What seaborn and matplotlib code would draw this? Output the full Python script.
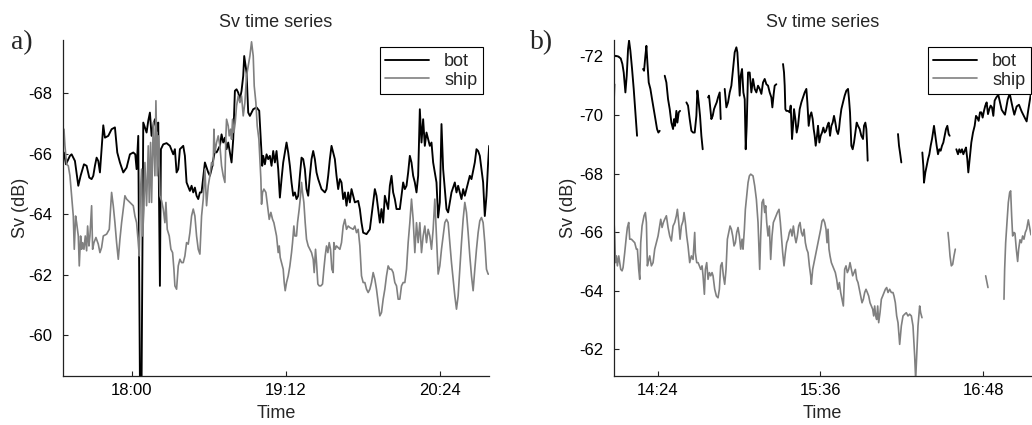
import numpy as np
import pandas as pd
import matplotlib
matplotlib.use("Agg")
import matplotlib.pyplot as plt
from matplotlib.lines import Line2D
from matplotlib.ticker import MultipleLocator, FuncFormatter
import seaborn as sns

# Clock time (minutes after midnight) at which each record starts
START_A = 17 * 60 + 28
START_B = 14 * 60 + 4

SERIES = ["bot", "ship"]
YTICKS_A = [-68, -66, -64, -62, -60]
YTICKS_B = [-72, -70, -68, -66, -64, -62]

# (minutes after start, Sv in dB) -- panel a
bot_a = [
    (0.47, -66.04), (1.40, -65.65), (3.26, -65.93), (4.04, -65.98), (5.59, -65.76),
    (7.15, -64.94), (8.23, -65.27), (9.79, -65.65), (11.03, -65.60), (12.27, -65.21),
    (13.36, -65.16), (14.14, -65.27), (14.91, -65.60), (15.69, -65.87), (16.47, -65.76),
    (17.24, -65.38), (18.80, -66.94), (19.57, -66.53), (21.13, -66.59), (22.68, -66.81),
    (24.23, -66.87), (25.32, -66.04), (26.56, -65.71), (28.12, -65.38), (29.67, -65.54),
    (31.22, -65.98), (32.78, -66.04), (33.71, -65.98), (34.33, -65.49), (35.11, -66.59),
    (35.88, -58.50), (36.66, -58.50), (37.44, -67.03), (38.21, -66.87), (38.99, -66.70),
    (39.77, -67.09), (40.54, -67.36), (41.32, -66.59), (42.10, -66.92), (42.87, -67.14),
    (43.65, -66.75), (44.43, -67.03), (45.20, -61.63), (45.67, -66.15), (46.76, -66.31),
    (48.31, -66.35), (49.86, -66.26), (51.42, -65.98), (52.19, -66.15), (52.97, -65.38),
    (53.75, -65.49), (54.52, -66.15), (56.08, -66.26), (56.85, -65.93), (57.63, -65.05),
    (59.18, -64.77), (59.96, -64.94), (60.74, -64.72), (61.51, -64.88), (62.29, -64.61),
    (63.07, -64.50), (63.84, -64.72), (64.62, -64.72), (66.17, -65.71), (67.73, -65.38),
    (68.50, -65.27), (69.28, -65.49), (70.83, -66.09), (71.61, -66.04), (73.17, -66.26),
    (73.94, -66.64), (74.72, -66.37), (75.50, -66.53), (76.27, -66.15), (77.05, -66.37),
    (77.83, -66.04), (78.60, -65.71), (79.38, -66.48), (80.16, -68.08), (80.93, -68.13),
    (81.71, -68.02), (82.49, -67.80), (83.26, -68.08), (84.04, -68.57), (84.50, -69.23),
    (85.13, -68.90), (85.59, -68.68), (86.37, -67.36), (87.15, -67.25), (88.70, -67.47),
    (90.25, -67.53), (91.50, -67.42), (92.12, -66.59), (92.89, -65.60), (93.36, -65.93),
    (94.14, -65.65), (94.91, -65.98), (95.69, -65.82), (96.47, -65.93), (97.24, -65.60),
    (98.02, -66.09), (98.80, -65.71), (99.57, -66.09), (100.35, -65.49), (101.13, -64.55),
    (101.90, -65.16), (102.68, -65.71), (103.46, -66.04), (104.23, -66.37), (105.01, -66.04),
    (105.79, -65.60), (106.56, -65.05), (107.34, -64.61), (108.12, -64.72), (108.89, -64.50),
    (109.67, -64.61), (110.45, -65.27), (111.22, -65.87), (112.00, -65.82), (112.78, -65.49),
    (113.55, -64.83), (114.33, -64.61), (115.11, -65.27), (115.88, -65.82), (116.66, -66.09),
    (117.44, -65.82), (118.21, -65.38), (118.99, -65.16), (119.77, -64.99), (120.54, -64.83),
    (122.10, -64.72), (122.87, -64.83), (123.65, -65.27), (124.43, -65.82), (125.20, -66.26),
    (125.98, -66.04), (126.76, -65.82), (127.53, -65.27), (128.31, -64.83), (129.09, -65.16),
    (129.86, -65.05), (130.64, -64.50), (131.42, -64.72), (132.19, -64.28), (132.97, -64.72),
    (133.75, -64.39), (134.52, -64.83), (136.08, -64.39), (137.63, -64.44), (138.41, -64.17),
    (139.18, -63.72), (139.96, -63.39), (141.52, -63.34), (143.07, -63.50), (143.84, -63.94),
    (144.62, -64.39), (145.40, -64.83), (146.17, -64.61), (146.95, -64.17), (147.73, -63.72),
    (148.50, -64.17), (149.28, -63.72), (150.06, -64.61), (150.83, -64.39), (151.61, -64.17),
    (152.39, -64.94), (153.17, -65.27), (153.94, -64.72), (154.72, -64.50), (155.50, -64.17),
    (157.05, -64.17), (157.83, -64.61), (158.60, -65.05), (159.38, -64.83), (160.16, -64.94),
    (160.93, -65.38), (161.71, -65.93), (162.49, -65.71), (163.26, -65.27), (164.04, -65.05),
    (164.82, -64.72), (165.59, -65.27), (166.37, -67.47), (167.15, -66.37), (167.92, -67.14),
    (168.70, -66.26), (169.48, -66.70), (170.25, -66.48), (171.03, -66.26), (171.81, -66.37),
    (172.58, -65.71), (173.36, -65.38), (174.14, -65.05), (174.91, -63.89), (175.69, -64.39),
    (176.47, -66.98), (177.24, -65.49), (178.02, -64.83), (178.80, -64.17), (179.57, -64.06),
    (180.35, -64.39), (181.13, -64.72), (182.68, -65.05), (183.46, -64.72), (184.23, -64.94),
    (185.01, -64.72), (185.79, -64.50), (186.56, -64.83), (187.34, -64.61), (188.89, -65.05),
    (189.67, -65.27), (190.45, -65.16), (191.22, -65.43), (192.00, -65.71), (192.78, -66.15),
    (193.55, -66.09), (194.33, -65.93), (195.11, -65.49), (195.88, -65.05), (196.66, -63.94),
    (197.44, -64.61), (198.21, -65.71), (198.69, -66.26),
]

ship_a = [
    (0.47, -66.81), (0.93, -66.26), (1.71, -65.65), (2.49, -65.60), (3.26, -65.27),
    (4.04, -64.61), (4.82, -63.94), (5.28, -62.84), (5.90, -63.94), (6.37, -63.72),
    (7.15, -63.28), (7.61, -62.29), (8.23, -63.28), (8.70, -62.84), (9.17, -63.06),
    (9.79, -62.84), (10.41, -63.28), (11.03, -62.79), (11.50, -63.61), (12.12, -62.95),
    (12.58, -63.28), (13.36, -64.28), (13.83, -62.84), (14.45, -63.06), (15.38, -63.23),
    (16.47, -63.01), (17.24, -62.73), (18.02, -62.90), (18.80, -63.28), (20.35, -63.34),
    (21.59, -63.50), (22.68, -64.72), (23.46, -64.28), (24.23, -63.72), (25.01, -63.06),
    (25.79, -62.51), (26.56, -63.17), (27.34, -63.72), (28.12, -64.17), (28.89, -64.61),
    (29.67, -64.50), (31.22, -64.39), (32.78, -64.28), (33.55, -63.94), (34.33, -63.72),
    (35.11, -63.06), (35.57, -62.62), (36.04, -64.61), (36.66, -65.49), (37.13, -63.28),
    (37.75, -64.17), (38.21, -65.71), (38.99, -64.28), (39.77, -66.26), (40.23, -64.39),
    (40.85, -66.37), (41.32, -64.39), (42.10, -67.03), (42.87, -65.27), (43.34, -67.75),
    (43.96, -65.27), (44.58, -66.59), (45.20, -64.61), (45.98, -64.44), (46.76, -64.17),
    (47.53, -63.72), (48.00, -64.39), (48.62, -63.50), (49.55, -63.28), (50.33, -62.84),
    (51.11, -62.73), (51.73, -62.18), (52.19, -61.63), (52.97, -61.52), (53.75, -62.29),
    (54.52, -62.51), (55.30, -62.40), (56.08, -62.40), (56.85, -62.62), (57.63, -63.06),
    (58.41, -63.01), (59.18, -63.39), (59.96, -63.94), (60.74, -64.17), (61.51, -63.94),
    (62.29, -63.28), (63.07, -62.84), (63.84, -62.68), (64.62, -63.94), (65.40, -64.50),
    (66.17, -65.49), (66.95, -64.28), (67.73, -64.94), (68.50, -65.27), (69.28, -65.71),
    (70.06, -65.60), (70.37, -66.81), (70.83, -66.04), (71.61, -66.37), (72.39, -66.59),
    (73.17, -66.26), (73.94, -65.60), (74.72, -65.27), (75.50, -65.05), (75.96, -66.59),
    (76.27, -67.14), (77.05, -66.92), (77.51, -66.59), (78.14, -66.81), (78.60, -66.48),
    (79.07, -67.14), (79.69, -66.70), (80.31, -67.03), (80.93, -67.58), (81.71, -67.91),
    (82.49, -67.69), (83.26, -67.91), (84.04, -67.25), (84.82, -67.69), (85.59, -68.57),
    (86.37, -68.90), (87.15, -69.23), (87.92, -69.70), (88.70, -69.23), (89.17, -68.24),
    (89.94, -67.69), (90.56, -66.92), (91.34, -66.48), (91.81, -65.82), (92.27, -65.16),
    (92.58, -64.33), (93.05, -64.72), (93.67, -64.83), (94.60, -64.72), (95.38, -64.28),
    (96.16, -63.83), (96.93, -64.06), (97.71, -63.83), (98.33, -63.72), (98.95, -63.50),
    (99.57, -63.28), (100.35, -62.73), (100.82, -62.95), (101.28, -62.57), (101.90, -62.40),
    (102.68, -62.18), (103.15, -61.74), (103.61, -61.47), (104.23, -61.74), (105.01, -61.96),
    (105.79, -62.29), (106.56, -62.73), (107.03, -63.06), (107.65, -63.61), (108.12, -63.28),
    (108.89, -63.28), (109.36, -63.72), (110.14, -64.17), (110.76, -64.61), (111.22, -65.05),
    (111.69, -64.72), (112.31, -64.39), (112.93, -63.72), (113.55, -63.17), (114.33, -62.95),
    (115.11, -62.84), (115.88, -62.73), (116.66, -62.51), (117.13, -62.07), (117.75, -62.84),
    (118.21, -62.40), (118.83, -61.69), (119.46, -61.63), (120.23, -61.63), (121.01, -61.69),
    (121.63, -62.18), (122.25, -62.62), (122.87, -62.95), (123.50, -62.73), (124.12, -63.06),
    (124.74, -62.84), (125.36, -62.18), (125.98, -62.07), (126.29, -63.06), (126.91, -62.84),
    (127.53, -62.95), (129.09, -62.84), (129.86, -63.06), (130.64, -63.61), (131.42, -63.83),
    (132.19, -63.50), (132.97, -63.61), (133.75, -63.56), (135.30, -63.50), (136.08, -63.61),
    (136.86, -63.39), (137.63, -63.50), (138.41, -62.95), (139.18, -61.96), (139.96, -61.74),
    (140.74, -61.74), (141.52, -61.52), (142.29, -61.41), (143.07, -61.52), (143.84, -61.74),
    (144.62, -62.07), (145.40, -61.85), (146.17, -61.52), (146.95, -61.08), (147.73, -60.64),
    (148.50, -60.75), (149.28, -61.19), (150.06, -61.52), (150.83, -61.96), (151.61, -62.29),
    (152.39, -62.18), (153.17, -62.18), (153.94, -62.07), (154.72, -61.74), (155.50, -61.63),
    (156.27, -61.19), (157.05, -61.19), (157.83, -61.63), (158.60, -61.74), (159.38, -61.74),
    (160.16, -62.18), (160.93, -63.06), (161.71, -63.72), (162.49, -64.50), (163.26, -63.83),
    (164.04, -62.73), (164.82, -63.72), (165.59, -63.06), (166.37, -63.72), (167.15, -62.73),
    (167.92, -63.28), (168.70, -63.61), (169.48, -63.06), (170.25, -63.50), (171.03, -63.28),
    (171.81, -62.84), (172.58, -63.50), (173.36, -64.50), (174.14, -63.28), (174.91, -62.02),
    (175.69, -62.29), (176.47, -62.84), (177.24, -63.28), (178.02, -63.72), (178.80, -63.83),
    (179.57, -63.72), (180.35, -63.06), (181.13, -62.40), (181.90, -61.85), (182.68, -61.30),
    (183.46, -60.86), (184.23, -61.30), (185.01, -62.18), (185.79, -63.06), (186.56, -63.83),
    (187.34, -64.39), (188.12, -64.06), (188.89, -63.39), (189.67, -62.62), (190.45, -61.96),
    (191.22, -61.47), (192.00, -62.18), (192.78, -62.84), (193.55, -63.39), (194.33, -63.78),
    (195.11, -63.89), (195.88, -63.72), (196.66, -63.06), (197.44, -62.18), (198.21, -62.02),
    (198.69, -62.02),
]

# panel b: None marks a dropout in the record
bot_b = [
    (0.59, -70.14), (0.88, -71.05), None,
    (1.33, -72.02), (2.51, -72.00), (3.69, -71.93), (4.42, -71.74), (5.01, -71.45),
    (5.75, -70.77), (6.34, -71.34), (6.93, -72.25), (7.37, -72.54), (7.96, -72.19),
    (8.70, -71.57), (9.43, -70.89), (10.17, -70.09), (10.91, -69.29), None,
    (13.56, -71.57), (14.00, -71.51), (14.59, -72.02), (15.04, -72.36), (15.48, -71.79),
    (16.07, -71.11), (16.81, -70.89), (17.54, -70.54), (18.28, -70.20), (19.02, -69.86),
    (19.75, -69.52), (20.34, -69.40), (20.93, -69.46), None,
    (23.15, -71.34), (23.88, -71.11), (24.62, -70.54), (25.36, -70.20), (26.09, -69.74),
    (26.83, -69.52), (27.27, -69.86), (27.71, -69.63), (28.30, -70.14), (28.75, -69.74),
    (29.34, -70.09), (29.93, -70.14), None,
    (32.73, -70.43), (33.46, -70.32), (34.20, -69.86), (34.94, -69.46), (35.68, -69.40),
    (36.41, -69.40), (37.15, -69.97), (37.59, -70.83), (38.18, -70.43), (38.77, -69.97),
    (39.36, -69.29), (39.95, -68.83), None,
    (42.31, -70.60), (42.75, -70.66), (43.19, -70.32), (43.78, -69.86), (44.37, -69.97),
    (44.96, -70.20), (45.55, -70.32), (46.14, -70.43), (46.73, -70.60), (47.47, -70.77),
    (47.91, -69.86), None,
    (49.68, -70.89), (50.42, -70.26), (51.15, -70.43), (51.89, -70.77), (52.63, -71.00),
    (53.37, -71.57), (54.10, -72.14), (54.84, -72.31), (55.28, -72.14), (55.87, -71.34),
    (56.31, -70.66), (56.76, -71.34), (57.35, -71.57), (57.94, -70.77), (58.53, -70.54),
    (58.97, -68.83), (59.41, -69.63), (60.00, -71.45), (60.74, -71.45), (61.47, -70.77),
    (62.21, -71.23), (62.95, -70.89), (63.69, -70.77), (64.42, -71.00), (65.16, -70.89),
    (65.90, -70.72), (66.63, -71.11), (67.37, -71.23), (68.11, -71.05), (68.85, -71.00),
    (69.58, -70.77), (70.32, -70.60), (70.76, -70.26), (71.35, -70.72), (71.79, -71.00),
    (72.53, -71.05), None,
    (75.48, -71.74), (75.92, -71.45), (76.22, -71.00), (76.51, -70.20), (76.95, -70.14),
    (77.69, -70.14), (78.43, -70.09), (78.87, -70.32), (79.46, -69.18), (79.90, -69.63),
    (80.34, -70.20), (80.93, -69.86), (81.52, -69.40), (82.11, -69.63), (82.85, -70.20),
    (83.59, -70.43), (84.32, -70.60), (85.06, -70.77), (85.80, -70.89), (86.24, -70.43),
    (86.83, -69.63), (87.42, -69.97), (88.01, -70.09), (88.60, -69.86), (89.04, -69.52),
    (89.48, -69.29), (89.93, -68.95), (90.52, -69.29), (90.96, -69.63), (91.55, -69.06),
    (92.14, -69.29), (92.73, -69.40), (93.32, -69.57), (93.91, -69.40), (94.50, -69.46),
    (95.09, -69.63), (95.68, -69.74), (96.27, -69.29), (96.86, -69.63), (97.44, -69.74),
    (98.03, -69.97), (98.62, -69.74), (99.21, -69.46), (99.80, -69.35), (100.25, -69.52),
    (100.69, -69.86), (101.28, -70.20), (102.01, -70.43), (102.75, -70.66), (103.49, -70.83),
    (104.23, -70.89), (104.67, -70.54), (105.11, -70.09), (105.70, -68.95), (106.29, -68.83),
    (106.88, -69.06), (107.47, -69.40), (108.06, -69.74), (108.65, -69.63), (109.39, -69.52),
    (110.12, -69.29), (110.86, -69.18), (111.30, -69.63), (111.89, -69.74), (112.33, -69.52),
    (112.63, -69.06), (112.92, -68.44), None,
    (126.34, -69.35), (126.78, -68.95), (127.22, -68.72), (127.81, -68.38), None,
    (137.10, -68.72), (137.54, -68.26), (137.84, -67.69), (138.43, -68.04), (139.02, -68.26),
    (139.61, -68.49), (140.20, -68.66), (140.79, -68.95), (141.38, -69.18), (141.82, -69.40),
    (142.26, -69.63), (142.85, -69.29), (143.44, -68.95), (144.03, -68.66), (144.62, -68.83),
    (145.21, -68.78), (145.80, -68.95), (146.39, -69.06), (146.98, -69.29), (147.57, -69.52),
    (148.16, -69.63), (148.75, -69.35), (149.19, -69.29), None,
    (152.14, -68.83), (152.87, -68.66), (153.46, -68.83), (154.05, -68.72), (154.64, -68.83),
    (155.23, -68.66), (155.82, -68.78), (156.41, -68.89), (157.00, -68.49), (157.44, -68.04),
    (158.03, -68.49), (158.77, -69.06), (159.51, -69.40), (160.25, -69.63), (160.84, -69.97),
    (161.42, -69.91), (162.01, -69.80), (162.60, -70.09), (163.19, -70.09), (163.78, -69.91),
    (164.37, -70.14), (164.96, -70.32), (165.55, -70.43), (166.14, -70.03), (166.73, -70.20),
    (167.32, -70.32), (167.91, -70.26), (168.50, -69.97), (169.09, -70.49), (169.83, -70.60),
    (170.71, -70.69), (171.45, -70.43), (172.19, -70.18), (172.92, -70.09), (173.66, -70.01),
    (174.25, -70.26), (174.84, -70.52), (175.43, -70.66), (175.87, -70.69), (176.61, -70.41),
    (177.20, -70.20), (177.79, -70.01), (178.82, -70.29), (179.85, -70.35), (181.03, -70.12),
    (182.50, -69.89), (183.24, -69.78), (183.98, -70.18), (185.16, -70.75),
]

ship_b = [
    (0.59, -66.56), (1.03, -65.87), (1.33, -64.96), (1.77, -65.19), (2.21, -64.85),
    (2.80, -65.19), (3.24, -64.96), (3.69, -64.73), (4.28, -64.68), (4.72, -64.79),
    (5.45, -65.30), (6.19, -65.87), (6.63, -66.16), (7.22, -66.33), (7.67, -65.76),
    (8.40, -65.76), (9.14, -65.70), (9.88, -65.64), (10.61, -65.42), (11.06, -65.42),
    (11.65, -64.73), (12.09, -64.39), (12.53, -65.64), (13.12, -66.21), (14.00, -66.56),
    (14.59, -66.67), (15.04, -66.33), (15.48, -64.85), (15.77, -64.96), (16.51, -65.19),
    (17.25, -64.85), (17.99, -64.96), (18.72, -65.42), (19.46, -65.64), (20.20, -65.87),
    (20.93, -66.21), (21.38, -66.44), (21.97, -66.16), (22.56, -66.33), (23.15, -66.44),
    (23.88, -66.56), (24.62, -66.16), (25.36, -65.87), (26.09, -65.70), (26.83, -66.21),
    (27.57, -66.33), (28.30, -66.56), (28.75, -66.78), (29.34, -66.33), (29.93, -65.76),
    (30.52, -66.21), (31.25, -66.38), (31.70, -66.67), (32.28, -66.33), (32.87, -65.87),
    (33.46, -65.53), (34.20, -64.96), (34.94, -65.19), (35.68, -65.07), (36.41, -65.99),
    (36.71, -65.30), (37.30, -64.96), (37.89, -64.96), (38.48, -64.85), (39.07, -64.73),
    (39.66, -64.85), (40.10, -64.51), (40.69, -63.88), (41.13, -64.73), (41.72, -64.96),
    (42.31, -64.39), (42.90, -64.62), (43.49, -64.51), (44.08, -64.62), (44.52, -64.51),
    (45.26, -64.05), (46.00, -63.82), (46.73, -63.76), (47.32, -64.05), (47.91, -64.85),
    (48.50, -64.96), (49.09, -64.51), (49.68, -64.22), (50.27, -64.73), (50.86, -65.76),
    (51.45, -65.99), (52.04, -66.21), (52.63, -66.10), (53.22, -65.87), (53.81, -65.53),
    (54.40, -65.64), (54.99, -65.99), (55.58, -66.16), (56.17, -65.87), (56.76, -65.42),
    (57.35, -65.76), (57.79, -65.42), (58.38, -66.10), (58.82, -66.78), (59.41, -67.24),
    (60.00, -67.69), (60.59, -67.92), (61.18, -67.98), (62.21, -67.92), (62.95, -67.58),
    (63.69, -67.12), (64.42, -66.33), (65.16, -64.73), (65.60, -65.87), (66.19, -67.01),
    (66.78, -67.12), (67.37, -66.67), (67.81, -66.90), (68.26, -66.33), (68.85, -65.87),
    (69.43, -66.21), (70.02, -65.07), (70.61, -65.87), (71.20, -66.33), (71.79, -66.44),
    (72.38, -66.56), (72.97, -66.67), (73.71, -66.78), (74.30, -66.33), (74.74, -65.87),
    (75.33, -65.30), (75.92, -64.85), (76.51, -65.30), (77.10, -65.64), (77.69, -65.76),
    (78.28, -65.99), (78.87, -66.10), (79.46, -65.87), (80.05, -66.21), (80.64, -65.87),
    (81.23, -65.64), (81.82, -65.87), (82.41, -66.21), (83.00, -66.33), (83.59, -65.99),
    (84.18, -65.87), (84.77, -66.10), (85.36, -65.64), (85.95, -65.42), (86.54, -65.30),
    (87.13, -64.85), (87.71, -64.51), (88.01, -64.22), (88.60, -64.73), (89.19, -64.96),
    (89.78, -65.19), (90.37, -65.42), (90.96, -65.64), (91.55, -65.87), (92.14, -66.10),
    (92.73, -66.38), (93.32, -66.44), (93.91, -66.33), (94.50, -66.10), (94.94, -65.64),
    (95.38, -66.10), (95.82, -65.42), (96.27, -65.19), (96.86, -64.96), (97.44, -64.85),
    (98.03, -64.73), (98.62, -64.62), (99.21, -64.39), (99.80, -64.05), (100.39, -64.28),
    (100.98, -63.94), (101.57, -63.71), (102.16, -63.48), (102.75, -64.73), (103.34, -64.85),
    (103.93, -64.62), (104.52, -64.73), (105.11, -64.96), (105.70, -64.73), (106.29, -64.51),
    (106.88, -64.62), (107.47, -64.73), (108.06, -64.39), (108.65, -64.28), (109.24, -64.05),
    (109.83, -63.82), (110.42, -63.59), (111.01, -63.71), (111.60, -63.94), (112.19, -64.05),
    (112.78, -63.94), (113.37, -63.82), (113.96, -63.59), (114.55, -63.48), (115.14, -63.37),
    (115.58, -63.14), (116.02, -63.48), (116.46, -63.14), (116.90, -63.02), (117.35, -63.48),
    (117.79, -62.91), (118.38, -63.25), (118.97, -63.71), (119.56, -63.82), (120.15, -63.94),
    (120.74, -64.05), (121.33, -64.11), (121.92, -63.94), (122.65, -64.05), (123.39, -63.94),
    (124.12, -63.94), (124.57, -63.82), (125.16, -63.59), (125.75, -63.14), (126.34, -62.91),
    (127.08, -62.17), (127.81, -62.80), (128.55, -63.14), (129.29, -63.20), (130.02, -63.25),
    (130.76, -63.14), (131.50, -63.20), (132.24, -63.14), (132.97, -62.80), (133.71, -61.77),
    (134.15, -60.97), (134.59, -61.77), (135.18, -62.80), (135.92, -63.48), (136.36, -63.25),
    (136.95, -63.08), None,
    (148.45, -65.99), (148.89, -65.64), (149.34, -65.19), (149.93, -64.85), (150.52, -64.90),
    (151.11, -65.19), (151.69, -65.42), None,
    (165.11, -64.51), (165.70, -64.28), (166.14, -64.11), None,
    (173.22, -63.71), (173.51, -64.73), (173.96, -65.64), (174.54, -66.33), (175.13, -67.01),
    (175.72, -67.35), (176.17, -67.41), (176.61, -66.56), (177.05, -65.87), (177.64, -65.99),
    (178.08, -65.96), (178.67, -65.42), (179.26, -65.00), (179.71, -65.42), (180.30, -65.74),
    (180.88, -65.64), (181.47, -65.87), (182.06, -65.76), (182.65, -65.99), (183.24, -66.10),
    (183.98, -66.42), (184.57, -66.16), (185.16, -65.91),
]


def to_frame(pairs, start):
    """Turn (minutes, Sv) pairs into a frame; each None starts a new segment."""
    rows, seg = [], 0
    for p in pairs:
        if p is None:
            seg += 1
            continue
        rows.append((start + p[0], p[1], seg))
    return pd.DataFrame(rows, columns=["time", "sv", "seg"])


def clock(m, _pos=None):
    m = int(round(m))
    return f"{m // 60}:{m % 60:02d}"


sns.set_theme(style="ticks")
plt.rcParams["font.family"] = ["Liberation Sans", "DejaVu Sans"]

STYLE = {
    "bot": dict(color="black", linewidth=1.35),
    "ship": dict(color="#808080", linewidth=1.2),
}
TICK_FS = 12
TEXT_FS = 13

fig = plt.figure(figsize=(10.32, 4.25), dpi=100)
ax_a = fig.add_axes([0.0610, 0.1153, 0.4128, 0.7906])
ax_b = fig.add_axes([0.5945, 0.1153, 0.4046, 0.7906])

panels = [
    (ax_a, bot_a, ship_a, START_A, (0.0, 198.6), (-58.65, -69.76), YTICKS_A,
     "a)", 11 / 1032, -0.08, 0.986),
    (ax_b, bot_b, ship_b, START_B, (0.5, 185.2), (-61.09, -72.56), YTICKS_B,
     "b)", 530 / 1032, -0.088, 1.0),
]

for ax, bot, ship, start, xl, yl, yt, tag, tag_x, ylab_x, leg_x in panels:
    for name, pairs in zip(SERIES, [bot, ship]):
        df = to_frame(pairs, start)
        sns.lineplot(data=df, x="time", y="sv", units="seg", estimator=None,
                     sort=False, ax=ax, legend=False, **STYLE[name])

    ax.set_xlim(start + xl[0], start + xl[1])
    ax.set_ylim(*yl)
    ax.set_yticks(yt)
    ax.yaxis.set_major_formatter(FuncFormatter(lambda v, _p: f"{v:g}"))
    ax.xaxis.set_major_locator(MultipleLocator(72))
    ax.xaxis.set_major_formatter(FuncFormatter(clock))

    sns.despine(ax=ax)
    for s in ("left", "bottom"):
        ax.spines[s].set_color("#222222")
        ax.spines[s].set_linewidth(0.9)
    ax.tick_params(axis="both", direction="in", length=3.5, width=0.8,
                   colors="#222222", labelcolor="black", labelsize=TICK_FS)
    ax.tick_params(axis="x", pad=5)
    ax.tick_params(axis="y", pad=7.5)

    ax.set_title("Sv time series", fontsize=TEXT_FS, pad=9.5)
    ax.set_xlabel("Time", fontsize=TEXT_FS, labelpad=5)
    ax.set_ylabel("Sv (dB)", fontsize=TEXT_FS)
    ax.yaxis.set_label_coords(ylab_x, 0.5)

    handles = [Line2D([], [], **STYLE[n]) for n in SERIES]
    leg = ax.legend(handles, SERIES, loc="upper right",
                    bbox_to_anchor=(leg_x, 0.979), borderaxespad=0,
                    fontsize=TEXT_FS, frameon=True, fancybox=False, framealpha=1,
                    edgecolor="black", handlelength=2.4, handletextpad=0.85,
                    labelspacing=0.1, borderpad=0.32)
    leg.get_frame().set_linewidth(0.8)

    fig.text(tag_x, 1 - 43 / 425, tag, family=["Liberation Serif", "DejaVu Serif"],
             fontsize=20, va="center", ha="left")

fig.savefig("out.png", dpi=100)
